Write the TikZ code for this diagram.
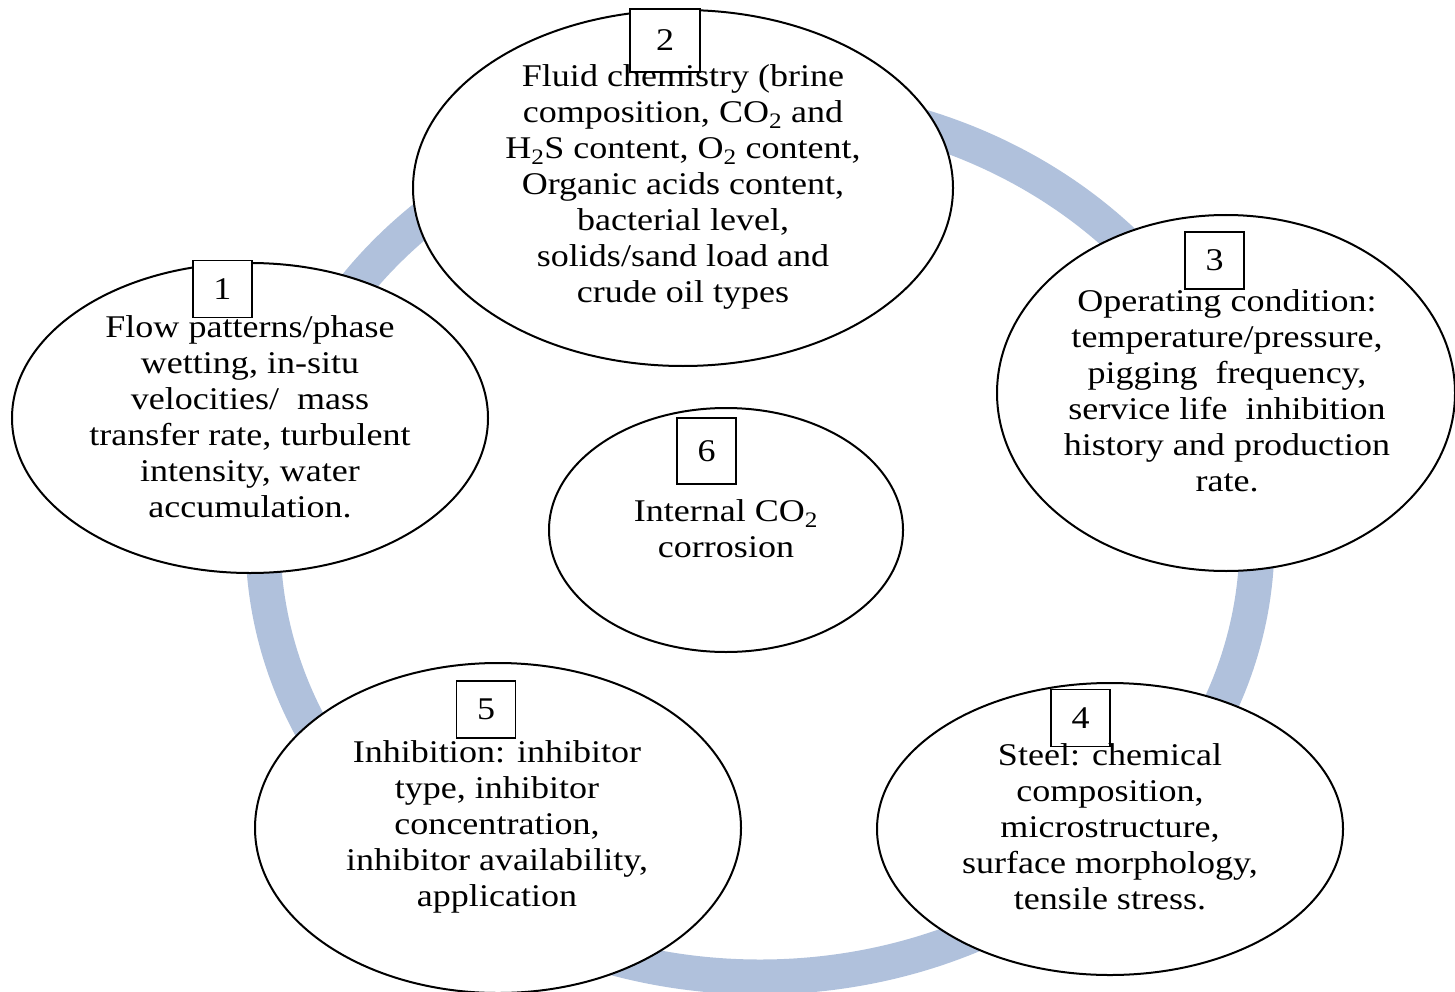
\documentclass[tikz,border=0pt]{standalone}
\usepackage{fontspec}
\setmainfont{Liberation Serif}[FakeStretch=1.14]
\usetikzlibrary{shapes.geometric}
\definecolor{ringblue}{RGB}{176,193,220}
\newcommand\txtfont{\fontsize{31.6}{36}\selectfont}
\begin{document}
\begin{tikzpicture}[x=1pt,y=-1pt,
  ring/.style={draw=ringblue,line width=35pt},
  bubble/.style={ellipse,draw=black,line width=2pt,fill=white,inner sep=0pt},
  numbox/.style={draw=black,line width=1.5pt,fill=white,inner sep=0pt,font=\txtfont,minimum width=59pt,minimum height=57pt},
  txt/.style={align=center,inner sep=0pt,font=\txtfont}]
\useasboundingbox (0,0) rectangle (1455,992);
% ring
\draw[ring] (760,540) ellipse [x radius=497, y radius=437];
% ellipses
\node[bubble,minimum width=476pt,minimum height=310pt] (e1) at (250,418) {};
\node[bubble,minimum width=540pt,minimum height=356pt] (e2) at (683,188) {};
\node[bubble,minimum width=458pt,minimum height=356pt] (e3) at (1226,393) {};
\node[bubble,minimum width=466pt,minimum height=292pt] (e4) at (1110,829) {};
\node[bubble,minimum width=486pt,minimum height=330pt] (e5) at (498,828) {};
\node[bubble,minimum width=354pt,minimum height=244pt] (e6) at (726,530) {};
% number boxes
\node[numbox] (b1) at (222.5,289) {1};
\node[numbox,minimum width=70pt,minimum height=63pt] (b2) at (665,40.5) {2};
\node[numbox] (b3) at (1214.5,260.5) {3};
\node[numbox] (b4) at (1080.5,718) {4};
\node[numbox] (b5) at (486,709.5) {5};
\node[numbox,minimum height=66pt] (b6) at (706.5,451) {6};
% texts
\node[txt] (t1) at (250,417) {Flow patterns/phase\\wetting, in-situ\\velocities/\ \ mass\\transfer rate, turbulent\\intensity, water\\accumulation.};
\node[txt] (t2) at (683,187) {Fluid chemistry (brine\\composition, CO\textsubscript{2} and\\H\textsubscript{2}S content, O\textsubscript{2} content,\\Organic acids content,\\bacterial level,\\solids/sand load and\\crude oil types};
\node[txt] (t3) at (1227,391) {Operating condition:\\temperature/pressure,\\pigging\ \ frequency,\\service life\ \ inhibition\\history and production\\rate.};
\node[txt] (t4) at (1110,827) {Steel: chemical\\composition,\\microstructure,\\surface morphology,\\tensile stress.};
\node[txt] (t5) at (497,827) {Inhibition: inhibitor\\type, inhibitor\\concentration,\\inhibitor availability,\\application};
\node[txt] (t6) at (726,529) {Internal CO\textsubscript{2}\\corrosion};
\end{tikzpicture}
\end{document}
